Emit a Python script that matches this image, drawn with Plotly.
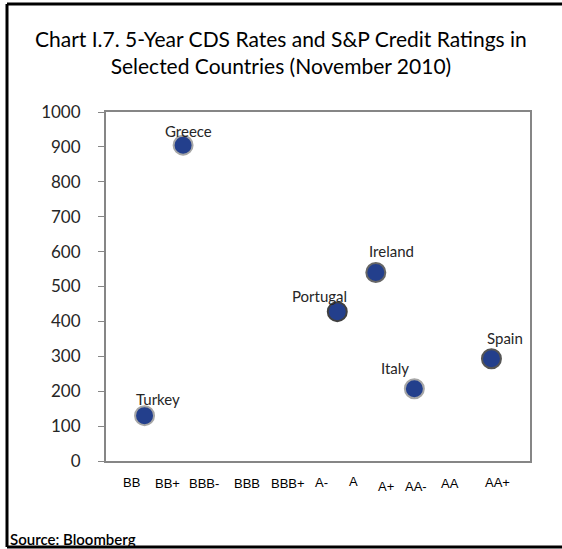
import plotly.graph_objects as go

###############################################################################
# Data
###############################################################################
RATINGS = ['BB', 'BB+', 'BBB-', 'BBB', 'BBB+', 'A-', 'A', 'A+', 'AA-', 'AA', 'AA+']
COUNTRIES = ['Turkey', 'Greece', 'Portugal', 'Ireland', 'Italy', 'Spain']
COUNTRY_RATING = ['BB', 'BB+', 'A-', 'A', 'A+', 'AA']
CDS = [130, 905, 428, 540, 207, 293]
Y_TICKS = list(range(0, 1001, 100))

###############################################################################
# Layout helpers (pixel geometry of the 562x549 page)
###############################################################################
W, H = 562, 549
(ML, MR, MT, MB) = (106, 32, 112, 88)
PW, PH = W - ML - MR, H - MT - MB


def px(x):
    return (x - ML) / PW


def py(y):
    return (H - MB - y) / PH


xi = [RATINGS.index(r) for r in COUNTRY_RATING]
FUT = 'Lato, "Noto Sans", sans-serif'

fig = go.Figure()
fig.add_trace(go.Scatter(
    x=xi, y=CDS, mode='markers',
    marker=dict(
        size=19, color='#233F8C',
        line=dict(width=2, color=['#a6a6a6', '#a6a6a6', '#404040',
                                  '#666666', '#a6a6a6', '#555555'])
    ),
    hoverinfo='skip', showlegend=False, cliponaxis=False
))

# country labels, hand-placed next to each bubble
lab_shift = {
    'Turkey': (13, 17), 'Greece': (5, 14), 'Portugal': (-18, 16),
    'Ireland': (16, 22), 'Italy': (-19, 21), 'Spain': (14, 21),
}
for (c, x, y) in zip(COUNTRIES, xi, CDS):
    (dx, dy) = lab_shift[c]
    fig.add_annotation(
        x=x, y=y, text=c, showarrow=False, xshift=dx, yshift=dy,
        font=dict(family=FUT, size=15, color='#262626')
    )

# rating labels under the plot (text boxes, irregularly spaced)
lab_px = [131, 168, 204, 247, 288, 322, 353, 386, 416, 450, 497]
lab_dy = [0, 1, 1, 1, 1, 0, -1, 4, 4, 1, 0]
for (i, r) in enumerate(RATINGS):
    fig.add_annotation(
        x=i, y=0, yref='paper', text=r, showarrow=False,
        xshift=lab_px[i] - (ML + (i + 1) * PW / 11),
        yshift=-31 - lab_dy[i],
        font=dict(family='Liberation Sans, Arial', size=13, color='#000000')
    )

fig.add_annotation(
    x=px(281), y=py(52), xref='paper', yref='paper',
    text='Chart I.7. 5-Year CDS Rates and S&P Credit Ratings in<br>'
         'Selected Countries (November 2010)',
    showarrow=False, xanchor='center', yanchor='middle',
    font=dict(family=FUT, size=21, color='#000000')
)
fig.add_annotation(
    x=px(8), y=py(539), xref='paper', yref='paper',
    text='Source: Bloomberg', showarrow=False,
    xanchor='left', yanchor='middle',
    font=dict(family=FUT, size=15, color='#000000', weight=600)
)

# outer frame (left, top, bottom edges)
for (x0, y0, x1, y1) in [(7, 4, 7, 547), (7, 4, W + 5, 4), (7, 547, W + 5, 547)]:
    fig.add_shape(
        type='line', xref='paper', yref='paper',
        x0=px(x0), y0=py(y0), x1=px(x1), y1=py(y1),
        line=dict(color='#000000', width=3)
    )

fig.update_layout(
    width=W, height=H,
    margin=dict(l=ML, r=MR, t=MT, b=MB),
    paper_bgcolor='white', plot_bgcolor='white',
    xaxis=dict(
        range=[-1, 10], showticklabels=False, ticks='',
        showgrid=False, zeroline=False,
        showline=True, linecolor='#868686', linewidth=2, mirror=True
    ),
    yaxis=dict(
        range=[0, 1000], tickvals=Y_TICKS, ticks='outside',
        ticklen=6, tickwidth=1, tickcolor='#868686',
        showgrid=False, zeroline=False,
        showline=True, linecolor='#868686', linewidth=2, mirror=True,
        tickfont=dict(family=FUT, size=17, color='#262626'),
        ticklabelstandoff=14
    ),
)

fig.write_html('out.html', config={'displayModeBar': False},
               post_script="document.body.style.margin='0';")
